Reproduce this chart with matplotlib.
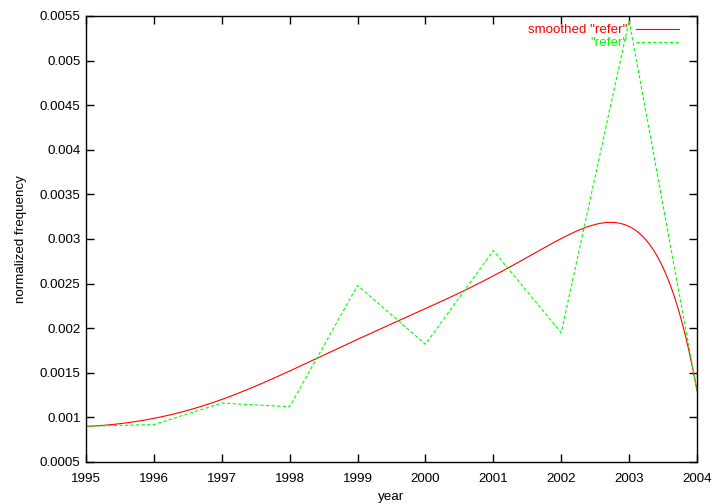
import matplotlib
matplotlib.use("Agg")
import matplotlib.pyplot as plt
import numpy as np
from math import comb

plt.rcParams['font.family'] = ['Liberation Sans', 'DejaVu Sans']
plt.rcParams['font.size'] = 9.6

years = [1995, 1996, 1997, 1998, 1999, 2000, 2001, 2002, 2003, 2004]
refer = [0.0009, 0.00092, 0.00116, 0.00112, 0.00248, 0.00182, 0.00287, 0.00195, 0.00545, 0.0013]

# bezier smoothing of the data points (like gnuplot "smooth bezier")
n = len(refer) - 1
t = np.linspace(0, 1, 300)
bx = np.zeros_like(t)
by = np.zeros_like(t)
for k in range(n + 1):
    b = comb(n, k) * t**k * (1 - t)**(n - k)
    bx += b * years[k]
    by += b * refer[k]

fig = plt.figure(figsize=(7.2, 5.04), dpi=100)
ax = fig.add_axes([86/720, 1 - 462/504, (697 - 86)/720, (462 - 16)/504])

ax.plot(bx, by, color="#ff0000", lw=0.8, label='smoothed "refer"')
ax.plot(years, refer, color="#00ff00", lw=0.8, dashes=(3, 2), label='"refer"')

ax.set_xlim(1995, 2004)
ax.set_ylim(0.0005, 0.0055)
ax.set_xticks(years)
yt = np.arange(0.0005, 0.00551, 0.0005)
ax.set_yticks(yt)
ax.set_yticklabels(["%g" % round(v, 4) for v in yt])
ax.tick_params(direction="in", length=6, width=1, top=True, right=True)
ax.tick_params(axis="x", pad=8)
ax.tick_params(axis="y", pad=4)
for s in ax.spines.values():
    s.set_linewidth(1)

ax.set_xlabel("year", labelpad=4)
ax.set_ylabel("normalized frequency", labelpad=9)

leg = ax.legend(loc="upper right", bbox_to_anchor=(0.9787, 0.994), borderaxespad=0,
                frameon=False, markerfirst=False, labelcolor="linecolor",
                handlelength=3.2, handletextpad=0.65, labelspacing=0.05)
for txt in leg.get_texts():
    txt.set_ha("right")

fig.savefig("out.png", dpi=100)
